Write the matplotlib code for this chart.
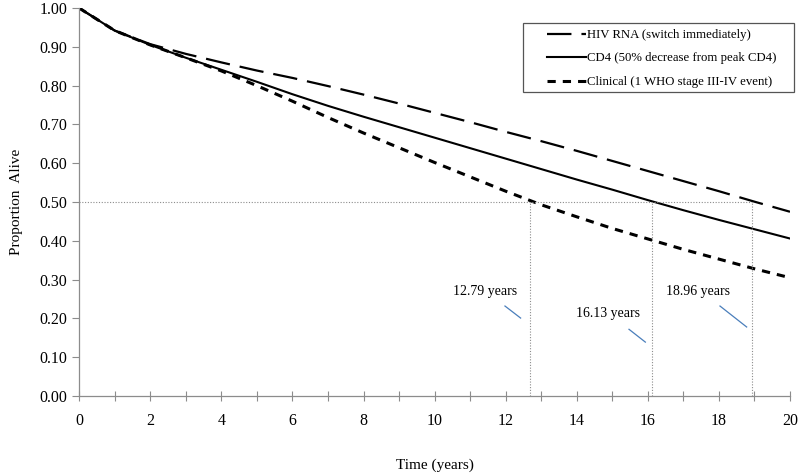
"""Survival curves by switching strategy (proportion alive over 20 years)."""

import matplotlib

matplotlib.use("Agg")
import matplotlib.pyplot as plt
from matplotlib.patches import Rectangle

# --- data ---
years = list(range(0, 21))
hiv_rna = [1.000, 0.942, 0.907, 0.882, 0.860, 0.839, 0.820, 0.799, 0.777, 0.754, 0.730,
           0.706, 0.681, 0.657, 0.632, 0.606, 0.580, 0.554, 0.528, 0.501, 0.475]
cd4 = [1.000, 0.942, 0.905, 0.872, 0.841, 0.810, 0.778, 0.748, 0.720, 0.693, 0.666,
       0.639, 0.612, 0.585, 0.558, 0.532, 0.505, 0.479, 0.454, 0.430, 0.406]
clinical = [1.000, 0.942, 0.905, 0.872, 0.838, 0.800, 0.760, 0.718, 0.678, 0.640, 0.602,
            0.565, 0.528, 0.493, 0.462, 0.432, 0.405, 0.378, 0.353, 0.328, 0.305]
series_labels = ["HIV RNA (switch immediately)",
                 "CD4 (50% decrease from peak CD4)",
                 "Clinical (1 WHO stage III-IV event)"]

median_x = [12.68, 16.13, 18.92]
median_labels = ["12.79 years", "16.13 years", "18.96 years"]
label_xy = [(11.42, 0.27), (14.88, 0.213), (17.41, 0.27)]
pointer_xy = [((11.98, 0.232), (12.42, 0.201)),
              ((15.47, 0.172), (15.93, 0.139)),
              ((18.03, 0.232), (18.78, 0.178))]

plt.rcParams["font.family"] = ["Liberation Serif", "DejaVu Serif"]

fig = plt.figure(figsize=(8, 4.76), dpi=100)
ax = fig.add_axes([0.099, 0.168, 0.8885, 0.815])

ax.plot(years, hiv_rna, color="black", lw=1.6, dashes=(11, 4.5), label=series_labels[0])
ax.plot(years, cd4, color="black", lw=1.5, label=series_labels[1])
ax.plot(years, clinical, color="black", lw=2.2, dashes=(2.7, 2.3), label=series_labels[2])

# median survival guides
grey = "#8c8c8c"
ax.plot([0, max(median_x)], [0.5, 0.5], color=grey, lw=0.8, ls=(0, (1, 1.5)))
for mx in median_x:
    ax.plot([mx, mx], [0, 0.5], color=grey, lw=0.8, ls=(0, (1, 1.5)))
for txt, (tx, ty), (p0, p1) in zip(median_labels, label_xy, pointer_xy):
    ax.text(tx, ty, txt, ha="center", va="center", fontsize=10)
    ax.plot([p0[0], p1[0]], [p0[1], p1[1]], color="#4a7ebb", lw=0.9)

ax.set_xlim(0, 20)
ax.set_ylim(0, 1.0)
ax.set_xticks(range(0, 21, 2))
ax.set_xticks(range(0, 21), minor=True)
ax.set_yticks([i / 10 for i in range(11)])
ax.set_yticklabels([f"{i / 10:.2f}" for i in range(11)])
ax.tick_params(axis="x", which="both", direction="inout", length=7, width=0.8,
               color=grey, labelsize=11.5, pad=9)
ax.tick_params(axis="y", direction="out", length=5, width=0.8, color=grey, labelsize=11.5)
for side in ("top", "right"):
    ax.spines[side].set_visible(False)
for side in ("left", "bottom"):
    ax.spines[side].set_color(grey)
    ax.spines[side].set_linewidth(0.9)

ax.set_xlabel("Time (years)", fontsize=11, labelpad=21)
ax.set_ylabel("Proportion  Alive", fontsize=11, labelpad=12)

# legend: entries without frame, box drawn separately (wider side padding)
ax.legend(loc="upper left", bbox_to_anchor=(0.684, 1 - 29 / 476),
          bbox_transform=fig.transFigure, fontsize=9.2, frameon=False,
          handlelength=3.0, handletextpad=0.15, borderpad=0, borderaxespad=0,
          labelspacing=0.9)
fig.patches.append(Rectangle((523 / 800, 1 - 92 / 476), 271 / 800, 69 / 476,
                             transform=fig.transFigure, fill=False,
                             edgecolor="#555555", lw=0.9))

fig.savefig("out.png", dpi=100)
